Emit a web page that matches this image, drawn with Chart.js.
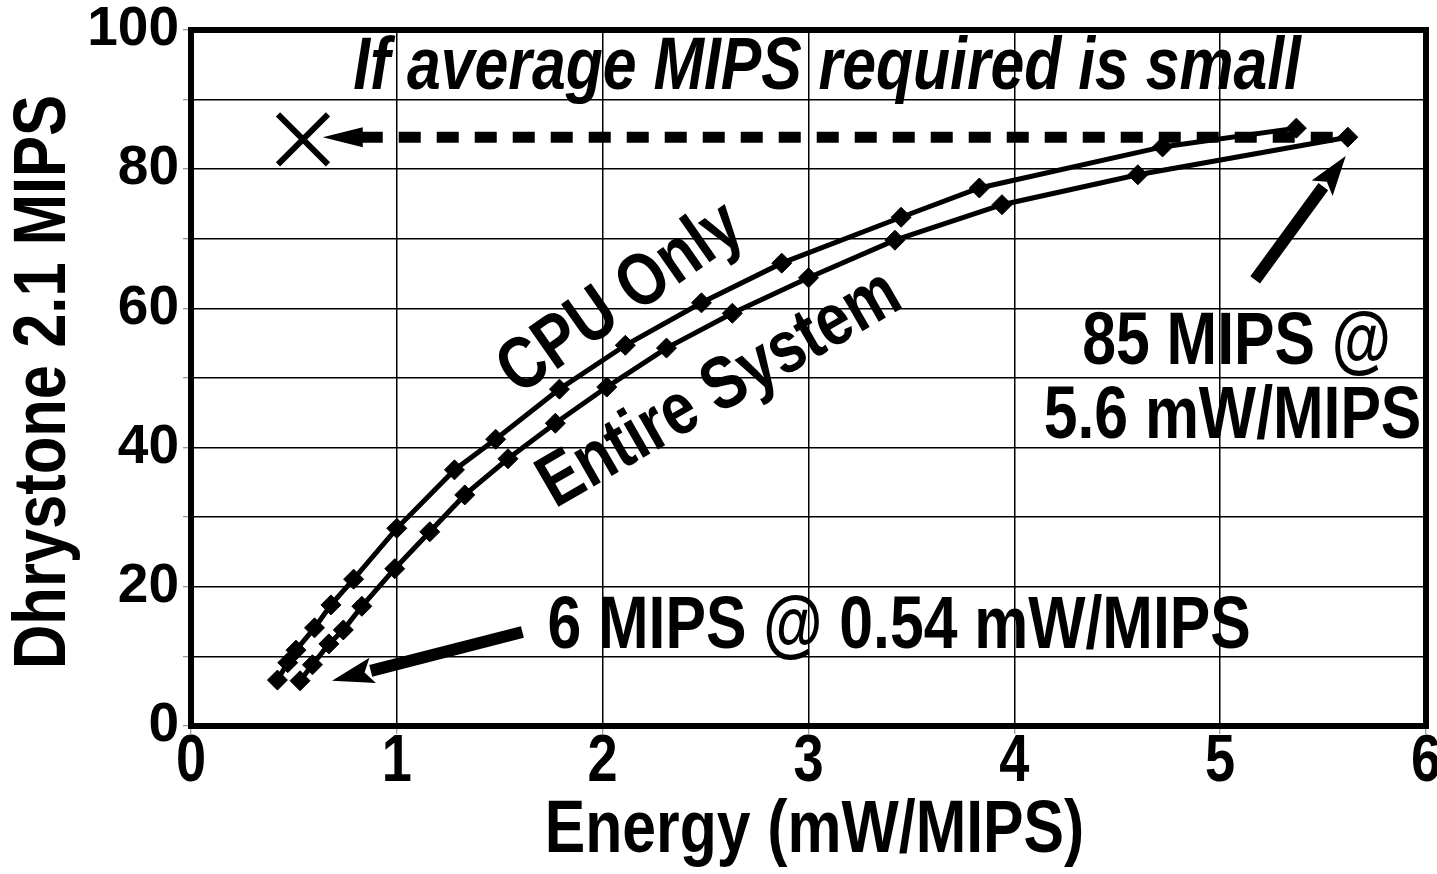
<!DOCTYPE html>
<html>
<head>
<meta charset="utf-8">
<script src="https://cdn.jsdelivr.net/npm/chart.js@4.4.0/dist/chart.umd.min.js"></script>
<style>
  html, body { margin: 0; padding: 0; background: #fff; }
  #wrap { width: 1437px; height: 874px; }
</style>
</head>
<body>
<div id="wrap"><canvas id="dhryChart"></canvas></div>
<script>
// Données
const cpuEnergy = [0.42, 0.47, 0.51, 0.60, 0.68, 0.79, 1.00, 1.28, 1.48, 1.79, 2.11, 2.48, 2.87, 3.45, 3.83, 4.72, 5.37];
const cpuMips   = [6.6, 9.1, 10.9, 14.1, 17.4, 21.1, 28.4, 36.8, 41.2, 48.4, 54.7, 60.8, 66.5, 73.1, 77.3, 83.2, 85.9];
const sysEnergy = [0.53, 0.59, 0.67, 0.74, 0.83, 0.99, 1.16, 1.33, 1.54, 1.77, 2.02, 2.31, 2.63, 3.00, 3.42, 3.94, 4.60, 5.62];
const sysMips   = [6.5, 8.8, 11.8, 13.8, 17.2, 22.6, 27.9, 33.2, 38.4, 43.5, 48.7, 54.3, 59.3, 64.4, 69.8, 74.9, 79.2, 84.6];
const seriesNames = ['CPU Only', 'Entire System'];
const xTicks = [0, 1, 2, 3, 4, 5, 6];
const yTicks = [0, 20, 40, 60, 80, 100];
const xTitle = 'Energy (mW/MIPS)';
const yTitle = 'Dhrystone 2.1 MIPS';

// pas de police "Narrow" installée : Liberation Sans Bold compressée à 82 %
const SANS = "'Liberation Sans', Arial, sans-serif";
const SQUEEZE = 0.82;

function toPoints(xs, ys) {
    return xs.map((x, i) => ({ x: x, y: ys[i] }));
}

function lineDataset(label, xs, ys) {
    return {
        label: label,
        data: toPoints(xs, ys),
        showLine: true,
        borderColor: '#000',
        backgroundColor: '#000',
        borderWidth: 5,
        pointStyle: 'rectRot',
        pointRadius: 10,
        pointBorderWidth: 1,
        tension: 0
    };
}

function narrowText(ctx, text, px, py, size, angle, italic) {
    ctx.save();
    ctx.translate(px, py);
    ctx.rotate((angle || 0) * Math.PI / 180);
    ctx.scale(SQUEEZE, 1);
    ctx.font = `${italic ? 'italic ' : ''}bold ${size}px ${SANS}`;
    ctx.fillStyle = '#000';
    ctx.textAlign = 'center';
    ctx.textBaseline = 'middle';
    ctx.fillText(text, 0, 0);
    ctx.restore();
}

// Flèche pleine (tige + pointe), coordonnées en unités de données
function drawArrow(ctx, xs, ys, from, to, shaft, headLen, headHalf) {
    const x1 = xs.getPixelForValue(from[0]), y1 = ys.getPixelForValue(from[1]);
    const x2 = xs.getPixelForValue(to[0]), y2 = ys.getPixelForValue(to[1]);
    const ang = Math.atan2(y2 - y1, x2 - x1);
    const len = Math.hypot(x2 - x1, y2 - y1);
    ctx.save();
    ctx.translate(x1, y1);
    ctx.rotate(ang);
    ctx.fillStyle = '#000';
    ctx.beginPath();
    ctx.moveTo(0, -shaft / 2);
    ctx.lineTo(len - headLen + 2, -shaft / 2);
    ctx.lineTo(len - headLen + 2, shaft / 2);
    ctx.lineTo(0, shaft / 2);
    ctx.closePath();
    ctx.fill();
    ctx.beginPath();
    ctx.moveTo(len, 0);
    ctx.lineTo(len - headLen, -headHalf);
    ctx.lineTo(len - headLen * 0.8, 0);
    ctx.lineTo(len - headLen, headHalf);
    ctx.closePath();
    ctx.fill();
    ctx.restore();
}

function dataLabel(ctx, xs, ys, text, x, y, size, angle, italic) {
    narrowText(ctx, text, xs.getPixelForValue(x), ys.getPixelForValue(y), size, angle, italic);
}

const annotationsPlugin = {
    id: 'figureAnnotations',
    beforeDatasetsDraw(chart) {
        const { ctx, chartArea: a } = chart;
        ctx.save();
        ctx.strokeStyle = '#000';
        ctx.lineWidth = 6;
        ctx.strokeRect(a.left, a.top, a.right - a.left, a.bottom - a.top);
        ctx.restore();
    },
    afterDatasetsDraw(chart) {
        const ctx = chart.ctx;
        const xs = chart.scales.x, ys = chart.scales.y;

        // étiquettes de l'axe X et titres des axes
        xs.ticks.forEach((t) => {
            narrowText(ctx, String(t.value), xs.getPixelForValue(t.value), xs.top + 37, 66);
        });
        narrowText(ctx, xTitle, (xs.left + xs.right) / 2 + 6, xs.bottom - 42, 74);
        narrowText(ctx, yTitle, 44, (ys.top + ys.bottom) / 2 + 4, 75, -90);

        // flèche pointillée horizontale
        const yDash = ys.getPixelForValue(84.6);
        const xTail = xs.getPixelForValue(5.58);
        const xTip = xs.getPixelForValue(0.64);
        ctx.save();
        ctx.strokeStyle = '#000';
        ctx.lineWidth = 11;
        ctx.setLineDash([22, 16]);
        ctx.beginPath();
        ctx.moveTo(xTip + 38, yDash);
        ctx.lineTo(xTail, yDash);
        ctx.stroke();
        ctx.setLineDash([]);
        ctx.fillStyle = '#000';
        ctx.beginPath();
        ctx.moveTo(xTip, yDash);
        ctx.lineTo(xTip + 40, yDash - 10);
        ctx.lineTo(xTip + 40, yDash + 10);
        ctx.closePath();
        ctx.fill();
        ctx.restore();

        // croix
        const cx = xs.getPixelForValue(0.544), cy = ys.getPixelForValue(84.3);
        ctx.save();
        ctx.strokeStyle = '#000';
        ctx.lineWidth = 6;
        ctx.beginPath();
        ctx.moveTo(cx - 25, cy - 25); ctx.lineTo(cx + 25, cy + 25);
        ctx.moveTo(cx + 25, cy - 25); ctx.lineTo(cx - 25, cy + 25);
        ctx.stroke();
        ctx.restore();

        drawArrow(ctx, xs, ys, [1.61, 13.5], [0.685, 6.5], 12, 42, 13);
        drawArrow(ctx, xs, ys, [5.17, 64.1], [5.61, 81.9], 12, 40, 13);

        dataLabel(ctx, xs, ys, 'If average MIPS required is small', 3.09, 94.4, 74, 0, true);
        dataLabel(ctx, xs, ys, seriesNames[0], 2.09, 61.3, 74, -35);
        dataLabel(ctx, xs, ys, seriesNames[1], 2.57, 48.3, 74, -30);
        dataLabel(ctx, xs, ys, '85 MIPS @', 5.08, 55.0, 74);
        dataLabel(ctx, xs, ys, '5.6 mW/MIPS', 5.06, 44.3, 74);
        dataLabel(ctx, xs, ys, '6 MIPS @ 0.54 mW/MIPS', 3.44, 14.1, 74);
    }
};

const chartConfig = {
    type: 'scatter',
    data: {
        datasets: [
            lineDataset(seriesNames[0], cpuEnergy, cpuMips),
            lineDataset(seriesNames[1], sysEnergy, sysMips)
        ]
    },
    options: {
        responsive: true,
        maintainAspectRatio: false,
        animation: false,
        layout: { padding: { top: 30, right: 7, left: 0, bottom: 0 } },
        plugins: { legend: { display: false }, tooltip: { enabled: false } },
        scales: {
            x: {
                type: 'linear',
                min: xTicks[0],
                max: xTicks[xTicks.length - 1],
                afterBuildTicks: (s) => { s.ticks = xTicks.map(v => ({ value: v })); },
                afterFit: (s) => { s.height = 148; s.paddingLeft = 0; s.paddingRight = 0; },
                ticks: { display: false },
                grid: { color: '#000', lineWidth: 1.5, tickLength: 8, tickColor: '#777', tickWidth: 1 },
                border: { display: false }
            },
            y: {
                type: 'linear',
                min: yTicks[0],
                max: yTicks[yTicks.length - 1],
                afterFit: (s) => { s.width = 191; s.paddingTop = 0; s.paddingBottom = 0; },
                ticks: {
                    stepSize: 10,
                    autoSkip: false,
                    color: '#000',
                    padding: 4,
                    callback: (v) => (yTicks.includes(v) ? v : ''),
                    font: { family: SANS, size: 55, weight: 'bold' }
                },
                grid: { color: '#000', lineWidth: 1.5, tickLength: 8, tickColor: '#777', tickWidth: 1 },
                border: { display: false }
            }
        }
    },
    plugins: [annotationsPlugin]
};

document.addEventListener('DOMContentLoaded', function () {
    const canvas = document.getElementById('dhryChart');
    new Chart(canvas, chartConfig);
});
</script>
</body>
</html>
